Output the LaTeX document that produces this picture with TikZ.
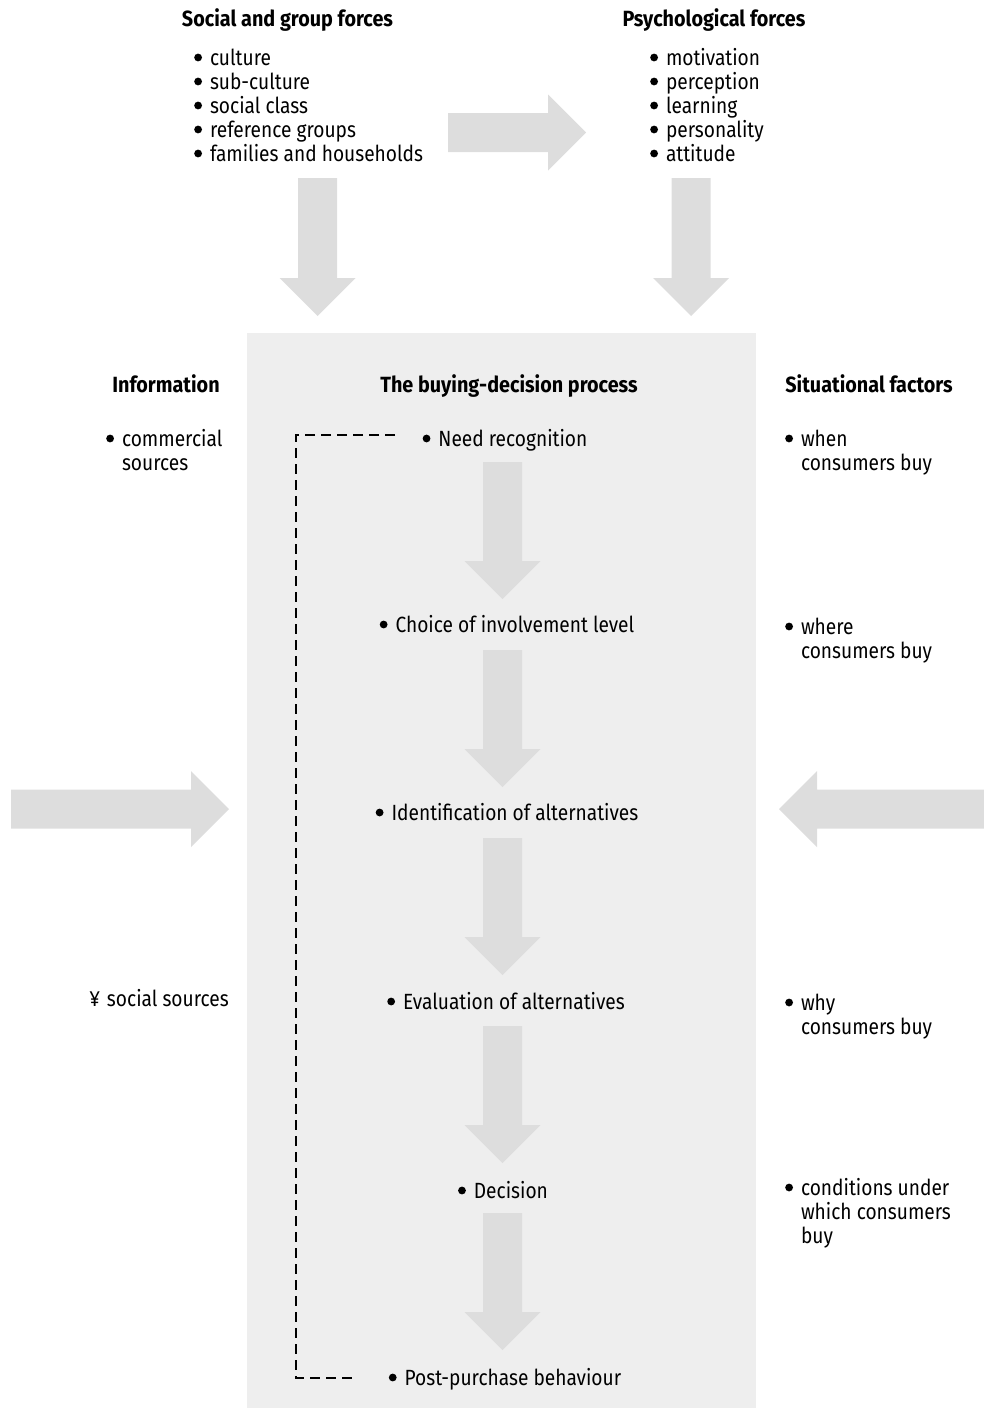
\documentclass[tikz,border=0pt]{standalone}
\usepackage{fontspec}
\setmainfont{Fira Sans}[FakeStretch=0.87, BoldFeatures={FakeStretch=0.9}]
\definecolor{panelgray}{HTML}{EEEEEE}
\definecolor{arrowgray}{HTML}{DDDDDD}
\newcommand{\dotb}{\tikz[baseline=0pt]{\fill[black] (3.9pt,7.5pt) circle[radius=3.9pt];}}
\newcommand{\itm}{\llap{\dotb\hspace{8pt}}}
\tikzset{
  txt/.style={inner sep=0pt, outer sep=0pt, font=\fontsize{22}{24}\selectfont, align=left},
  ttl/.style={inner sep=0pt, outer sep=0pt, font=\fontsize{22}{24}\selectfont\bfseries},
  feedback/.style={line width=2.8pt, dash pattern=on 10pt off 6pt},
  pics/blockarrow/.style={code={
    \fill[arrowgray] (0,-19.5) -- ({#1-38},-19.5) -- ({#1-38},-38) -- (#1,0)
      -- ({#1-38},38) -- ({#1-38},19.5) -- (0,19.5) -- cycle;}}
}
\begin{document}
\begin{tikzpicture}[x=1pt,y=-1pt]
\useasboundingbox (0,0) rectangle (984,1408);
% panel
\node[fill=panelgray, inner sep=0pt, outer sep=0pt, minimum width=509pt, minimum height=1075pt, anchor=north west] (panel) at (247,333) {};
% top block (base anchor = baseline of the last line)
\node[ttl, anchor=base] (tsocial) at (287.5,27) {Social and group forces};
\node[txt, anchor=base west] (lsocial) at (210,161) {\itm culture\\\itm sub-culture\\\itm social class\\\itm reference groups\\\itm families and households};
\node[ttl, anchor=base] (tpsych) at (714,27) {Psychological forces};
\node[txt, anchor=base west] (lpsych) at (666,161) {\itm motivation\\\itm perception\\\itm learning\\\itm personality\\\itm attitude};
% block arrows (top)
\pic at (448,132.5) {blockarrow=138};
\pic[rotate=-90] at (317.5,178) {blockarrow=138};
\pic[rotate=-90] at (691,178) {blockarrow=138};
% side arrows
\pic at (11,809) {blockarrow=218};
\pic[rotate=180] at (984,809) {blockarrow=205};
% column titles
\node[ttl, anchor=base] (tinfo) at (166,392) {Information};
\node[ttl, anchor=base] (tproc) at (509,392) {The buying-decision process};
\node[ttl, anchor=base] (tsit) at (869,392) {Situational factors};
% information
\node[txt, anchor=base west] (icomm) at (122,470) {\itm commercial\\sources};
\node[txt, anchor=base west] (isoc) at (107,1006) {\llap{¥\hspace{7pt}}social sources};
% process
\node[txt, anchor=base] (p1) at (505,446) {\dotb\hspace{8pt}Need recognition};
\node[txt, anchor=base] (p2) at (507,632) {\dotb\hspace{8pt}Choice of involvement level};
\node[txt, anchor=base] (p3) at (507,820) {\dotb\hspace{8pt}Identification of alternatives};
\node[txt, anchor=base] (p4) at (506,1009) {\dotb\hspace{8pt}Evaluation of alternatives};
\node[txt, anchor=base] (p5) at (503,1198) {\dotb\hspace{8pt}Decision};
\node[txt, anchor=base] (p6) at (505,1385) {\dotb\hspace{8pt}Post-purchase behaviour};
\foreach \t in {462,650,838,1026,1213}{
  \pic[rotate=-90] at (502.5,\t) {blockarrow=137};
}
% situational
\node[txt, anchor=base west] (s1) at (801,470) {\itm when\\consumers buy};
\node[txt, anchor=base west] (s2) at (801,658) {\itm where\\consumers buy};
\node[txt, anchor=base west] (s3) at (801,1034) {\itm why\\consumers buy};
\node[txt, anchor=base west] (s4) at (801,1243) {\itm conditions under\\which consumers\\buy};
% feedback loop
\coordinate (fbtop) at (395,435);
\coordinate (fbbot) at (355,1378);
\draw[feedback] (fbtop) -- ++(-99,0) |- (fbbot);
\end{tikzpicture}
\end{document}
